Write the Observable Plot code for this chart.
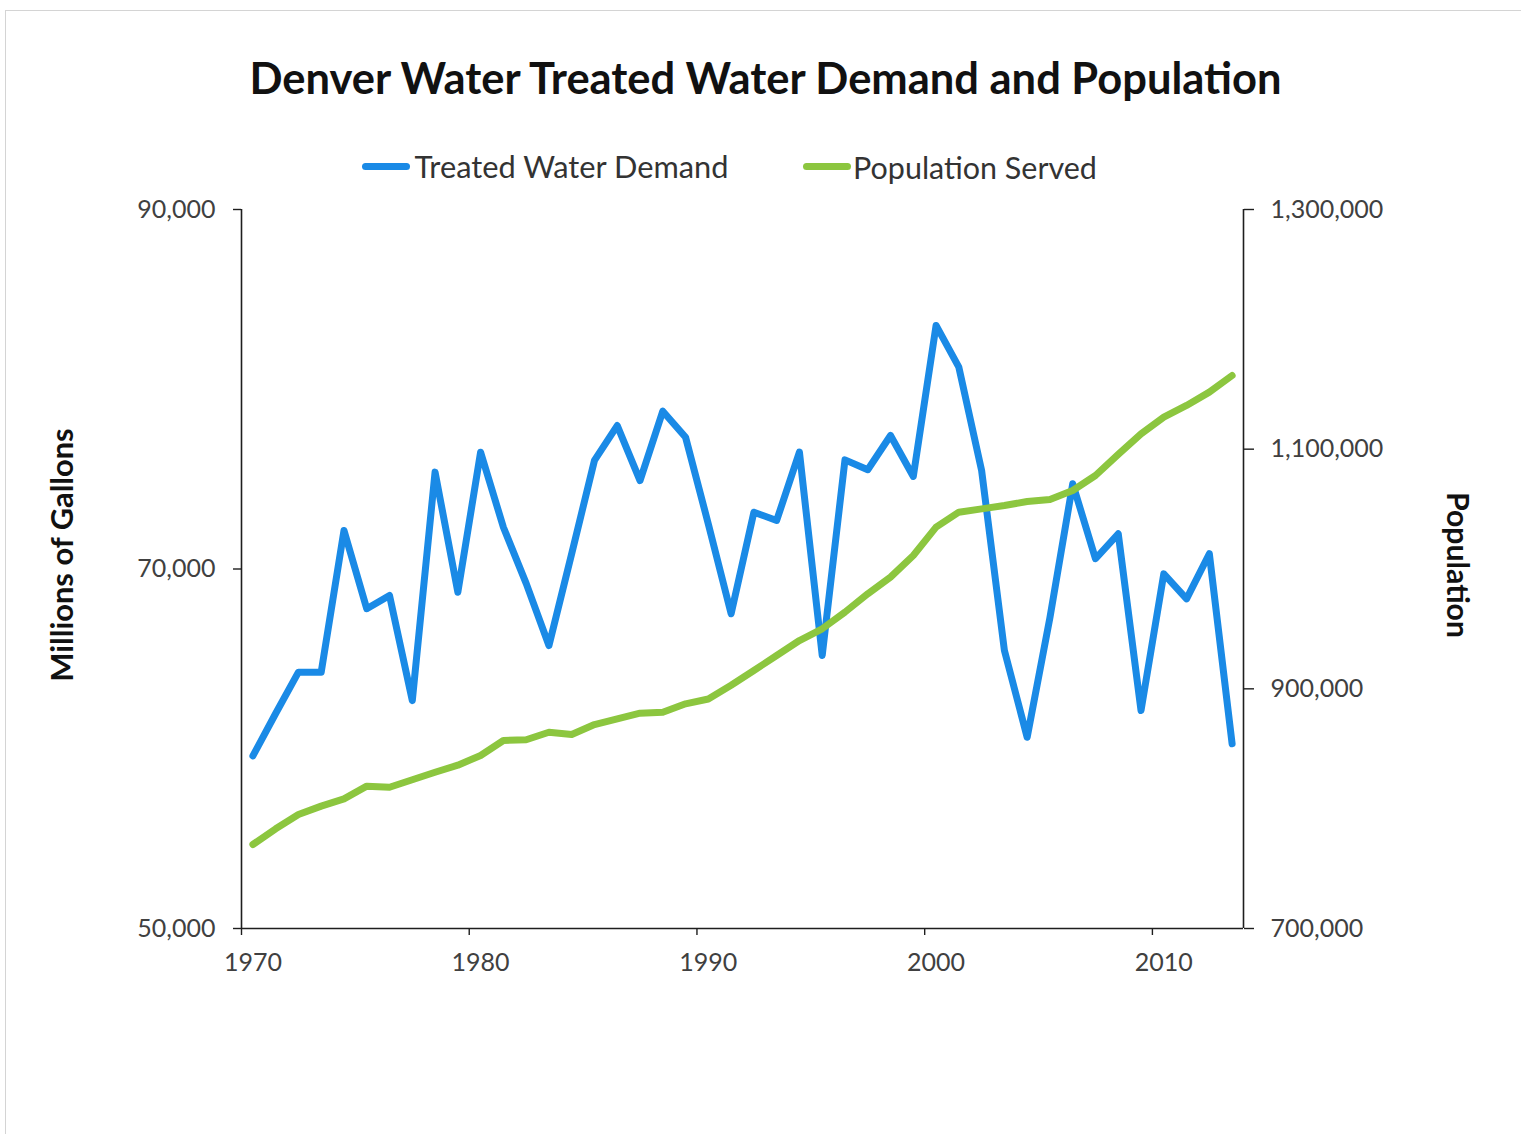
<!DOCTYPE html>
<html>
<head>
<meta charset="utf-8">
<script src="https://cdn.jsdelivr.net/npm/d3@7"></script>
<script src="https://cdn.jsdelivr.net/npm/@observablehq/plot@0.6"></script>
<style>
  html, body { margin: 0; padding: 0; background: #fff; }
  #wrap { position: relative; width: 1521px; height: 1134px; overflow: hidden; font-family: Lato, "Open Sans", sans-serif; }
  #frame { position: absolute; left: 5px; top: 10px; width: 1530px; height: 1140px; border-left: 1px solid #d4d4d4; border-top: 1px solid #d4d4d4; }
  .txt { position: absolute; white-space: nowrap; line-height: 1; }
  .sw { position: absolute; height: 7px; border-radius: 4px; }
  #chart { position: absolute; left: 0; top: 0; }
</style>
</head>
<body>
<div id="wrap">
  <div id="frame"></div>
  <div id="chart"></div>
</div>
<script>
// ---- data ----
const years = [1970,1971,1972,1973,1974,1975,1976,1977,1978,1979,
               1980,1981,1982,1983,1984,1985,1986,1987,1988,1989,
               1990,1991,1992,1993,1994,1995,1996,1997,1998,1999,
               2000,2001,2002,2003,2004,2005,2006,2007,2008,2009,
               2010,2011,2012,2013];
const demand = [59600,61960,64260,64260,72140,67790,68530,62680,75390,68710,
                76500,72320,69200,65740,70860,76040,77980,74920,78780,77330,
                72500,67510,73160,72700,76500,65190,76070,75520,77430,75150,
                83550,81230,75480,65470,60640,67300,74740,70570,71960,62130,
                69730,68340,70850,60280];
const population = [770100,783200,795100,802100,808200,818800,817900,824100,830400,836300,
                    844400,856900,857500,863800,861900,870200,875000,879700,880500,887500,
                    891500,903000,915300,927800,940300,950100,964000,979300,993200,1011300,
                    1034900,1047400,1050200,1053000,1056300,1058000,1065500,1078000,1095600,1112800,
                    1126700,1136500,1147600,1161500];
const leftTicks = [50000, 70000, 90000];
const rightTicks = [700000, 900000, 1100000, 1300000];
const xTickLabels = [1970, 1980, 1990, 2000, 2010];
const xTickMarks = [1969.5, 1979.5, 1989.5, 1999.5, 2009.5];
const leftDomain = [50000, 90000];
const rightDomain = [700000, 1300000];

const title = "Denver Water Treated Water Demand and Population";
const seriesNames = ["Treated Water Demand", "Population Served"];
const colors = ["#1a8ae6", "#8cc63f"];

// map population onto the left scale
const toLeft = p => leftDomain[0] + (p - rightDomain[0]) * (leftDomain[1] - leftDomain[0]) / (rightDomain[1] - rightDomain[0]);
const fromLeft = v => rightDomain[0] + (v - leftDomain[0]) * (rightDomain[1] - rightDomain[0]) / (leftDomain[1] - leftDomain[0]);

const demandData = years.map((y, i) => ({year: y, value: demand[i]}));
const popData = years.map((y, i) => ({year: y, value: toLeft(population[i])}));

const fmt = d3.format(",");
const axisColor = "#1e1e1e";

const plot = Plot.plot({
  width: 1521,
  height: 1000,
  marginTop: 209,
  marginBottom: 72,
  marginLeft: 241,
  marginRight: 278,
  style: { fontFamily: "Lato, 'Open Sans', sans-serif", fontSize: "25px", color: "#404040", background: "transparent" },
  x: { type: "linear", domain: [1969.5, 2013.5] },
  y: { domain: leftDomain },
  marks: [
    Plot.axisY({ anchor: "left", ticks: leftTicks, tickSize: 8, tickPadding: 18, tickFormat: fmt, label: null, stroke: axisColor, strokeWidth: 1.4 }),
    Plot.axisY({ anchor: "right", ticks: rightTicks.map(toLeft), tickSize: 10, tickPadding: 17, tickFormat: d => fmt(Math.round(fromLeft(d))), label: null, stroke: axisColor, strokeWidth: 1.4 }),
    Plot.axisX({ anchor: "bottom", ticks: xTickLabels, tickSize: 0, tickPadding: 25, tickFormat: d => String(d), label: null }),
    Plot.axisX({ anchor: "bottom", ticks: xTickMarks, tickSize: 7, tickFormat: () => "", label: null, stroke: axisColor, strokeWidth: 1.4 }),
    Plot.ruleY([leftDomain[0]], { stroke: axisColor, strokeWidth: 1.6 }),
    Plot.ruleX([1969.5, 2013.5], { stroke: axisColor, strokeWidth: 1.6 }),
    Plot.line(demandData, { x: "year", y: "value", stroke: colors[0], strokeWidth: 7, strokeLinejoin: "round", strokeLinecap: "round" }),
    Plot.line(popData, { x: "year", y: "value", stroke: colors[1], strokeWidth: 7, strokeLinejoin: "round", strokeLinecap: "round" })
  ]
});
document.getElementById("chart").appendChild(plot);

// ---- text helpers ----
const canvas = document.createElement("canvas");
const ctx = canvas.getContext("2d");
function sizeFor(text, weight, targetWidth, family) {
  ctx.font = `${weight} 100px ${family}`;
  const w = ctx.measureText(text).width;
  return 100 * targetWidth / w;
}
const wrap = document.getElementById("wrap");
const FAM = "Lato";
function addText(text, opts) {
  const el = document.createElement("div");
  el.className = "txt";
  el.textContent = text;
  const fs = sizeFor(text, opts.weight, opts.width, FAM);
  el.style.fontFamily = FAM;
  el.style.fontWeight = opts.weight;
  el.style.fontSize = fs + "px";
  el.style.color = opts.color;
  el.style.left = opts.cx + "px";
  el.style.top = opts.cy + "px";
  el.style.transform = `translate(-50%,-50%)` + (opts.rotate ? ` rotate(${opts.rotate}deg)` : "");
  wrap.appendChild(el);
  return el;
}

// title
addText(title, { weight: "bold", width: 1037, cx: 765.5, cy: 78, color: "#111" });

// legend
function addSwatch(x0, x1, y, color) {
  const s = document.createElement("div");
  s.className = "sw";
  s.style.left = x0 + "px";
  s.style.width = (x1 - x0) + "px";
  s.style.top = (y - 3.5) + "px";
  s.style.background = color;
  wrap.appendChild(s);
}
addSwatch(362, 410, 166, colors[0]);
addText(seriesNames[0], { weight: "normal", width: 315, cx: (414 + 729) / 2, cy: 167, color: "#333" });
addSwatch(803, 851, 166, colors[1]);
addText(seriesNames[1], { weight: "normal", width: 244, cx: (853 + 1097) / 2, cy: 167, color: "#333" });

// axis titles
addText("Millions of Gallons", { weight: "bold", width: 254, cx: 62, cy: 555, rotate: -90, color: "#111" });
addText("Population", { weight: "bold", width: 146, cx: 1459, cy: 565, rotate: 90, color: "#111" });
</script>
</body>
</html>
